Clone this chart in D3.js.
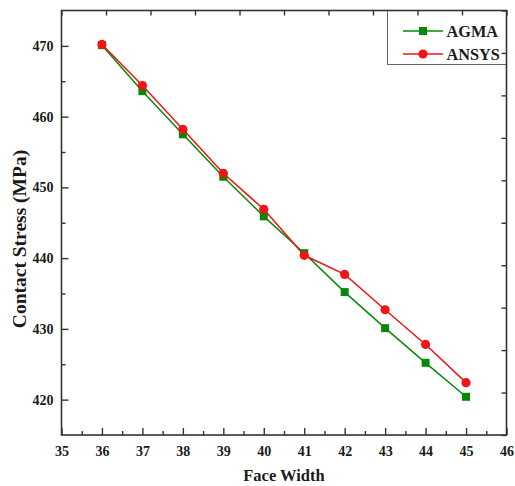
<!DOCTYPE html>
<html>
<head>
<meta charset="utf-8">
<script src="https://cdn.jsdelivr.net/npm/d3@7"></script>
<style>
  html, body { margin: 0; padding: 0; background: #fff; }
  svg text { font-family: "Liberation Serif", "Times New Roman", serif; font-weight: bold; fill: #1a1a1a; }
</style>
</head>
<body>
<svg id="chart" width="515" height="486"></svg>
<script>
// Face width values (x) and contact stress results (MPa)
const faceWidth = [36, 37, 38, 39, 40, 41, 42, 43, 44, 45];
const agma  = [470.1, 463.6, 457.5, 451.5, 445.9, 440.7, 435.2, 430.1, 425.2, 420.4];
const ansys = [470.2, 464.4, 458.2, 452.0, 446.9, 440.4, 437.7, 432.7, 427.8, 422.4];

const xTicks = [35, 36, 37, 38, 39, 40, 41, 42, 43, 44, 45, 46];
const yTicks = [420, 430, 440, 450, 460, 470];
const seriesNames = ["AGMA", "ANSYS"];

const W = 515, H = 486;
const m = { left: 61.5, right: 8.5, top: 10.5, bottom: 51 };
const svg = d3.select("#chart");

const x = d3.scaleLinear().domain([35, 46]).range([m.left, W - m.right]);
const y = d3.scaleLinear().domain([415, 475]).range([H - m.bottom, m.top]);

const green = "#0a870a", red = "#f01414";
const frameColor = "#333";

// Legend box (drawn first so the frame ticks sit on top of it)
const lg = svg.append("g");
lg.append("rect")
  .attr("x", 387.5).attr("y", m.top)
  .attr("width", (W - m.right) - 387.5).attr("height", 54)
  .attr("fill", "#fff").attr("stroke", "#666").attr("stroke-width", 1);

// Bottom axis: major ticks with labels, minor ticks at half units
const bottom = svg.append("g").attr("transform", `translate(0,${H - m.bottom})`);
bottom.call(d3.axisBottom(x).tickValues(xTicks).tickFormat(d3.format("d"))
  .tickSizeInner(-7).tickSizeOuter(0).tickPadding(11));
svg.append("g").attr("transform", `translate(0,${H - m.bottom})`)
  .call(d3.axisBottom(x).tickValues(d3.range(35.5, 46, 1)).tickFormat("")
  .tickSizeInner(-4).tickSizeOuter(0));

// Left axis
const left = svg.append("g").attr("transform", `translate(${m.left},0)`);
left.call(d3.axisLeft(y).tickValues(yTicks).tickFormat(d3.format("d"))
  .tickSizeInner(-7).tickSizeOuter(0).tickPadding(8));
svg.append("g").attr("transform", `translate(${m.left},0)`)
  .call(d3.axisLeft(y).tickValues(d3.range(425, 475, 10)).tickFormat("")
  .tickSizeInner(-4).tickSizeOuter(0));

// Top and right axes: ten plain divisions, ticks only
const topScale = d3.scaleLinear().domain([0, 10]).range(x.range());
svg.append("g").attr("transform", `translate(0,${m.top})`)
  .call(d3.axisTop(topScale).ticks(10).tickFormat("").tickSizeInner(-5).tickSizeOuter(0));
const rightScale = d3.scaleLinear().domain([0, 10]).range(y.range());
svg.append("g").attr("transform", `translate(${W - m.right},0)`)
  .call(d3.axisRight(rightScale).ticks(10).tickFormat("").tickSizeInner(-5).tickSizeOuter(0));

svg.selectAll(".domain").remove();
svg.selectAll(".tick line").attr("stroke", frameColor).attr("stroke-width", 1.4);
svg.selectAll(".tick text").style("font-size", "14px").style("fill", "#1a1a1a");

// Plot frame
svg.append("rect")
  .attr("x", m.left).attr("y", m.top)
  .attr("width", W - m.right - m.left).attr("height", H - m.bottom - m.top)
  .attr("fill", "none").attr("stroke", frameColor).attr("stroke-width", 1.6);

// Series
const line = d3.line().x((d, i) => x(faceWidth[i])).y(d => y(d));
svg.append("path").datum(agma).attr("d", line)
  .attr("fill", "none").attr("stroke", green).attr("stroke-width", 1.5);
svg.append("path").datum(ansys).attr("d", line)
  .attr("fill", "none").attr("stroke", red).attr("stroke-width", 1.5);

const sq = 8;
svg.append("g").selectAll("rect").data(agma).join("rect")
  .attr("x", (d, i) => x(faceWidth[i]) - sq / 2)
  .attr("y", d => y(d) - sq / 2)
  .attr("width", sq).attr("height", sq).attr("fill", green);
svg.append("g").selectAll("circle").data(ansys).join("circle")
  .attr("cx", (d, i) => x(faceWidth[i])).attr("cy", d => y(d))
  .attr("r", 4.6).attr("fill", red);

// Legend entries
const legendRows = [
  { name: seriesNames[0], color: green, shape: "square", cy: 31 },
  { name: seriesNames[1], color: red, shape: "circle", cy: 54 }
];
legendRows.forEach(r => {
  lg.append("line").attr("x1", 403).attr("x2", 443).attr("y1", r.cy).attr("y2", r.cy)
    .attr("stroke", r.color).attr("stroke-width", 1.5);
  if (r.shape === "square") {
    lg.append("rect").attr("x", 423 - sq / 2).attr("y", r.cy - sq / 2)
      .attr("width", sq).attr("height", sq).attr("fill", r.color);
  } else {
    lg.append("circle").attr("cx", 423).attr("cy", r.cy).attr("r", 4.6).attr("fill", r.color);
  }
  lg.append("text").attr("x", 446.5).attr("y", r.cy).attr("dy", "0.36em")
    .style("font-size", "16.3px").text(r.name);
});

// Axis titles
svg.append("text")
  .attr("x", (m.left + W - m.right) / 2).attr("y", 481)
  .attr("text-anchor", "middle").style("font-size", "16.5px")
  .text("Face Width");
svg.append("text")
  .attr("transform", `translate(25.5,239) rotate(-90)`)
  .attr("text-anchor", "middle").style("font-size", "19.5px")
  .text("Contact Stress (MPa)");
</script>
</body>
</html>
